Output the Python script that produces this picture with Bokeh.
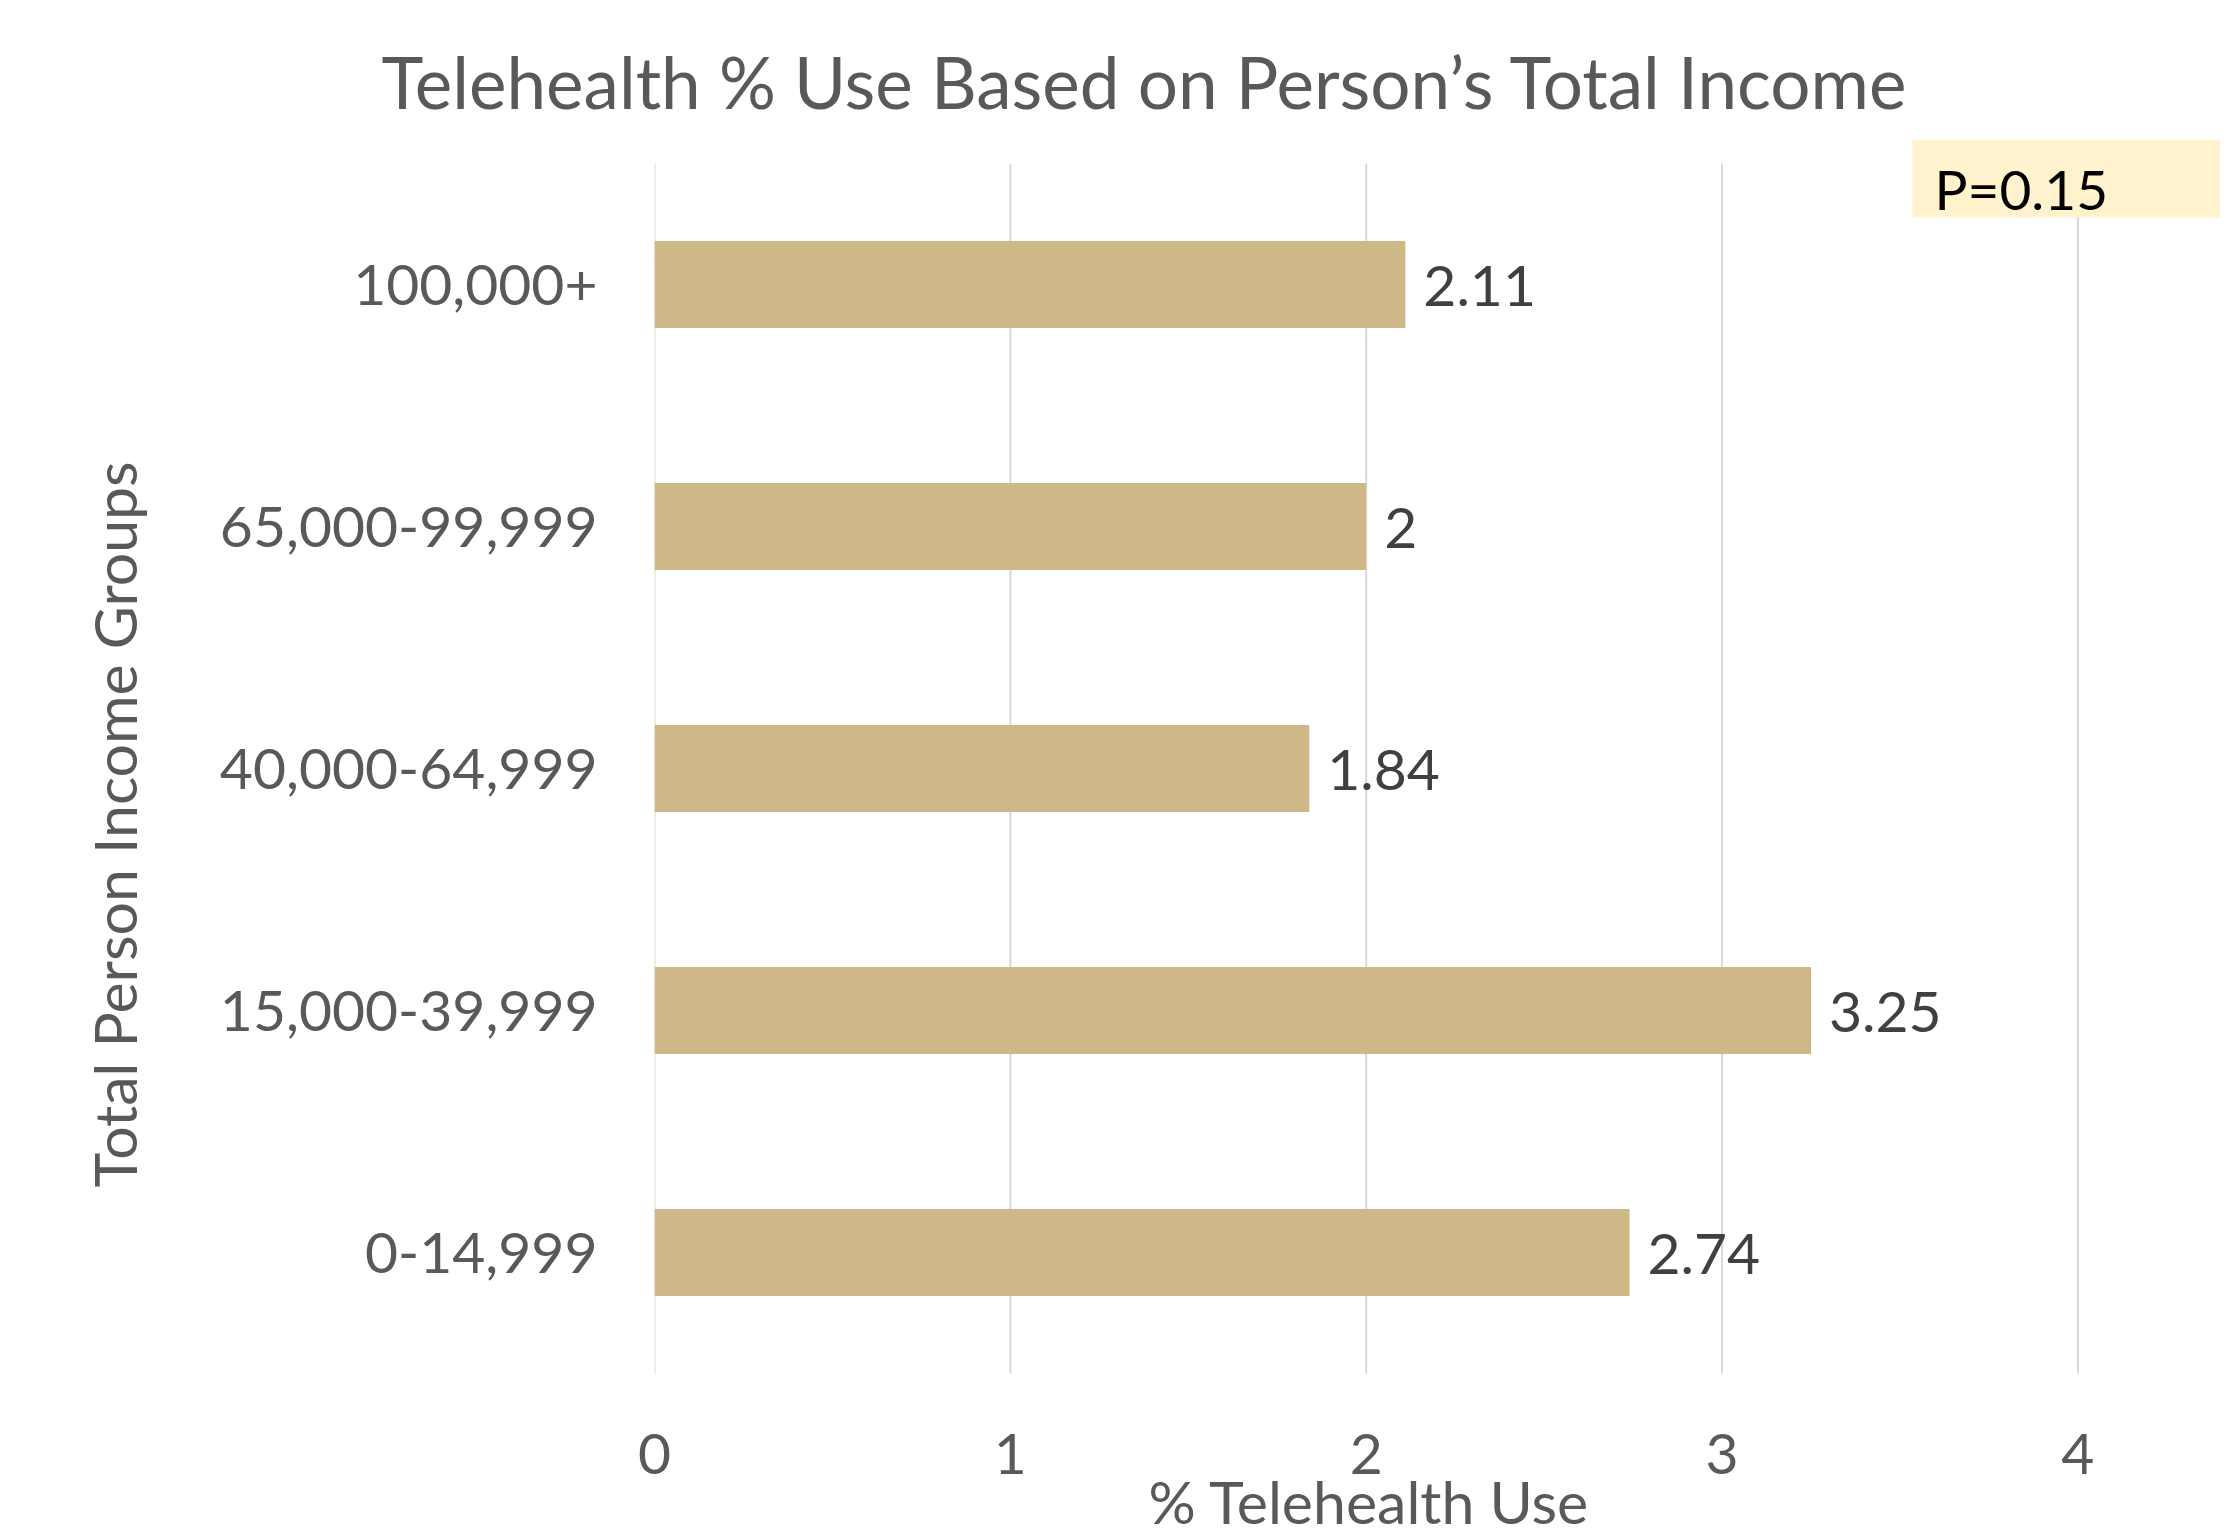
from bokeh.plotting import figure
from bokeh.models import Range1d, FixedTicker, Label, BoxAnnotation, ColumnDataSource, Title
from bokeh.core.properties import value
from bokeh.embed import file_html
from bokeh.resources import INLINE

# ---- data (bottom to top, as drawn) ----
categories = ["0-14,999", "15,000-39,999", "40,000-64,999", "65,000-99,999", "100,000+"]
telehealth_pct = [2.74, 3.25, 1.84, 2.00, 2.11]
x_ticks = [0, 1, 2, 3, 4]
title_text = "Telehealth % Use Based on Person\u2019s Total Income"
x_title = "% Telehealth Use"
y_title = "Total Person Income Groups"
p_value_text = "P=0.15"

FONT = "Lato"
TEXT_COLOR = "#595959"
BAR_COLOR = "#CFB887"
GRID_COLOR = "#D9D9D9"

W, H = 2220, 1528
FL, FT, FB = 654, 139, 154          # frame left / top / bottom borders
FW, FH = W - FL, H - FT - FB
px_per_x = 355.85
px_per_y = 242.0
y_bottom = -0.504

idx = list(range(len(categories)))
src = ColumnDataSource(dict(
    y=idx,
    v=telehealth_pct,
    lab=[f"{v:g}" for v in telehealth_pct],
))

p = figure(width=W, height=H, output_backend="svg", toolbar_location=None,
           x_range=Range1d(0, FW / px_per_x),
           y_range=Range1d(y_bottom, y_bottom + FH / px_per_y),
           min_border_left=FL, min_border_right=0, min_border_top=FT, min_border_bottom=FB)
p.background_fill_color = "white"
p.border_fill_color = "white"
p.outline_line_color = None
p.xgrid.visible = False
p.ygrid.visible = False

# gridlines
n = len(categories)
p.segment(x0=x_ticks, y0=[-0.5] * len(x_ticks), x1=x_ticks, y1=[n - 0.5] * len(x_ticks),
          line_color=GRID_COLOR, line_width=2)

# bars
p.hbar(y="y", left=0, right="v", height=0.36, source=src,
       fill_color=BAR_COLOR, line_color=None)

# value labels
p.text(x="v", y="y", text="lab", source=src, x_offset=18, y_offset=1,
       text_align="left", text_baseline="middle",
       text_font=value(FONT), text_font_size="57px", text_color="#404040")

# axes
p.xaxis.ticker = FixedTicker(ticks=x_ticks)
p.yaxis.ticker = FixedTicker(ticks=idx)
p.yaxis.major_label_overrides = {i: c for i, c in zip(idx, categories)}
for ax in (p.xaxis[0], p.yaxis[0]):
    ax.axis_line_color = None
    ax.major_tick_line_color = None
    ax.minor_tick_line_color = None
    ax.major_tick_out = 0
    ax.major_tick_in = 0
    ax.minor_tick_out = 0
    ax.major_label_text_font = FONT
    ax.major_label_text_font_size = "57px"
    ax.major_label_text_color = TEXT_COLOR
p.xaxis.major_label_standoff = 59
p.yaxis.major_label_standoff = 57

# titles
p.add_layout(Title(text=title_text, align="left", offset=-273, standoff=32,
                   vertical_align="bottom",
                   text_font=FONT, text_font_size="71px", text_font_style="normal",
                   text_color=TEXT_COLOR), "above")
p.add_layout(Title(text=y_title, align="left", offset=187, standoff=134,
                   vertical_align="bottom",
                   text_font=FONT, text_font_size="59px", text_font_style="normal",
                   text_color=TEXT_COLOR), "left")
p.add_layout(Title(text=x_title, align="left", offset=494, standoff=-22,
                   vertical_align="top",
                   text_font=FONT, text_font_size="59px", text_font_style="normal",
                   text_color=TEXT_COLOR), "below")

# P-value box
p.add_layout(BoxAnnotation(left=1258, right=FW, top=FH, bottom=1157,
                           left_units="screen", right_units="screen",
                           top_units="screen", bottom_units="screen",
                           fill_color="#FFF2CC", fill_alpha=1.0, line_color=None))
p.add_layout(Label(x=1280, y=1186, x_units="screen", y_units="screen", text=p_value_text,
                   text_align="left", text_baseline="middle",
                   text_font=FONT, text_font_size="55px", text_color="black"))

open("out.html", "w").write(file_html(p, INLINE))
